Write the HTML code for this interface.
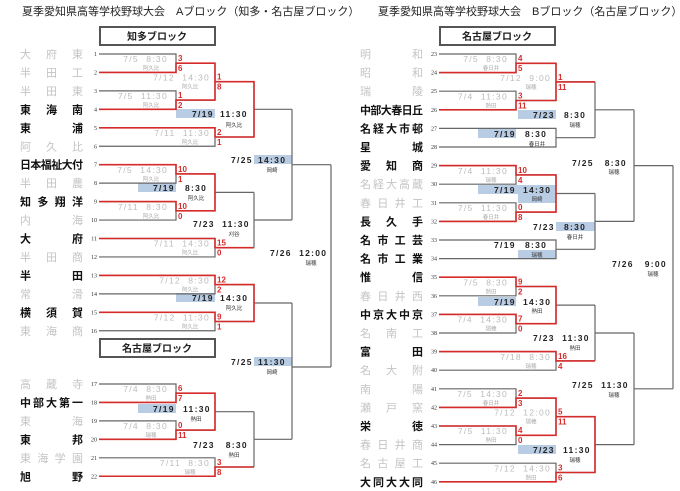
<!DOCTYPE html>
<html><head><meta charset="utf-8"><style>
html,body{margin:0;padding:0;background:#fff;}
svg{display:block}
.g{stroke:#666;stroke-width:1.2;fill:none}
.r{stroke:#d52b2b;stroke-width:1.6;fill:none}
.d{font-family:"Liberation Sans",sans-serif;font-size:8.5px;fill:#bbb;letter-spacing:1.3px;white-space:pre;text-anchor:end}
.k{font-family:"Liberation Sans",sans-serif;font-size:8.5px;fill:#222;font-weight:bold;letter-spacing:1.3px;white-space:pre}
.v{font-family:"Noto Sans CJK JP",sans-serif;font-size:5.5px;fill:#aaa;text-anchor:middle}
.vk{font-family:"Noto Sans CJK JP",sans-serif;font-size:5.5px;fill:#333;text-anchor:middle}
.s{font-family:"Liberation Sans",sans-serif;font-size:8px;font-weight:bold;fill:#d52b2b}
.n{font-family:"Liberation Serif",serif;font-size:6px;fill:#333;text-anchor:end}
.t1{font-family:"Liberation Sans","Noto Sans CJK JP",sans-serif;font-size:11px;font-weight:bold;fill:#111}
.t0{font-family:"Liberation Sans","Noto Sans CJK JP",sans-serif;font-size:11px;fill:#c4c4c4}
.h{font-family:"Liberation Sans","Noto Sans CJK JP",sans-serif;font-size:11px;fill:#222}
.bx{font-family:"Liberation Sans","Noto Sans CJK JP",sans-serif;font-size:10px;font-weight:bold;fill:#222;text-anchor:middle}
.b{fill:#b8cce4}
</style></head><body>
<svg width="680" height="491" viewBox="0 0 680 491" xmlns="http://www.w3.org/2000/svg">
<text class="h" x="22" y="15">夏季愛知県高等学校野球大会　Aブロック（知多・名古屋ブロック）</text>
<text class="h" x="378" y="15">夏季愛知県高等学校野球大会　Bブロック（名古屋ブロック）</text>
<rect x="100" y="27" width="115" height="18" fill="#fff" stroke="#555" stroke-width="2"/>
<text class="bx" x="157" y="40">知多ブロック</text>
<rect x="100" y="339" width="115" height="18" fill="#fff" stroke="#555" stroke-width="2"/>
<text class="bx" x="157" y="352">名古屋ブロック</text>
<rect x="440" y="27" width="115" height="18" fill="#fff" stroke="#555" stroke-width="2"/>
<text class="bx" x="497" y="40">名古屋ブロック</text>

<rect class="b" x="176" y="109" width="39" height="9"/>
<rect class="b" x="138" y="183" width="38" height="9"/>
<rect class="b" x="254" y="155" width="38" height="9"/>
<rect class="b" x="176" y="293" width="39" height="9"/>
<rect class="b" x="254" y="357" width="38" height="9"/>
<rect class="b" x="138" y="404" width="38" height="9"/>
<rect class="b" x="478" y="129" width="38" height="9"/>
<rect class="b" x="518" y="110" width="38" height="9"/>
<rect class="b" x="478" y="185" width="78" height="9"/>
<rect class="b" x="518" y="194" width="38" height="9"/>
<rect class="b" x="518" y="250" width="38" height="9"/>
<rect class="b" x="556" y="222" width="39" height="9"/>
<rect class="b" x="478" y="297" width="38" height="9"/>
<rect class="b" x="518" y="445" width="38" height="9"/>

<path class="g" d="M99 54H176V72.45H99M176 63.2H215M99 90.9H176V109.35H99M176 100.1H215M215 63.2V100.1M215 81.7H254M99 127.8H215V146.25H99M215 137H254M254 81.7V137M254 109.3H292M99 164.7H176V183.15H99M176 173.9H215M99 201.6H176V220.05H99M176 210.8H215M215 173.9V210.8M215 192.4H254M99 238.5H215V256.95H99M215 247.7H254M254 192.4V247.7M254 220H292M292 109.3V220M292 164.7H331M99 275.4H215V293.85H99M215 284.6H254M99 312.3H215V330.75H99M215 321.5H254M254 284.6V321.5M254 303H292M99 384H176V402.45H99M176 393.2H215M99 420.9H176V439.35H99M176 430.1H215M215 393.2V430.1M215 411.7H254M99 457.8H215V476.25H99M215 467H254M254 411.7V467M254 439.3H292M292 303V439.3M292 367H331M331 164.7V367"/>
<path class="g" d="M439 54H516V72.6H439M516 63.3H556M439 91.2H516V109.8H439M516 100.5H556M556 63.3V100.5M556 81.9H595M439 128.4H556V147H439M556 137.7H595M595 81.9V137.7M595 109.8H634M439 165.6H516V184.2H439M516 174.9H556M439 202.8H516V221.4H439M516 212.1H556M556 174.9V212.1M556 193.5H595M439 240H556V258.6H439M556 249.3H595M595 193.5V249.3M595 221.4H634M634 109.8V221.4M634 165.6H673M439 277.2H516V295.8H439M516 286.5H556M439 314.4H516V333H439M516 323.7H556M556 286.5V323.7M556 305.1H595M439 351.6H556V370.2H439M556 360.9H595M595 305.1V360.9M595 333H634M439 388.8H516V407.4H439M516 398.1H556M439 426H516V444.6H439M516 435.3H556M556 398.1V435.3M556 416.7H595M439 463.2H556V481.8H439M556 472.5H595M595 416.7V472.5M595 444.6H634M634 333V444.6M634 388.8H673M673 165.6V388.8"/>

<path class="r" d="M99 72.45H176V63.2H215V81.7M99 109.35H176V100.1H215V81.7H254V109.3M99 127.8H215V137H254V109.3M99 164.7H176V173.9H215V192.4M99 201.6H176V210.8H215V192.4M99 238.5H215V247.7H254M99 275.4H215V284.6H254V303M99 312.3H215V321.5H254V303M99 402.45H176V393.2H215V411.7M99 439.35H176V430.1H215V411.7M99 476.25H215V467H254"/>
<path class="r" d="M439 72.6H516V63.3H556V81.9M439 109.8H516V100.5H556V81.9H595M439 165.6H516V174.9H556V193.5M439 221.4H516V212.1H556V193.5M439 277.2H516V286.5H556V305.1M439 314.4H516V323.7H556V305.1M439 351.6H556V360.9H595M439 407.4H516V398.1H556V416.7M439 426H516V435.3H556V416.7H595V444.6M439 481.8H556V472.5H595V444.6"/>

<text class="t0" x="20" y="58" textLength="63" lengthAdjust="spacing">大府東</text>
<text class="t0" x="20" y="76.5" textLength="63" lengthAdjust="spacing">半田工</text>
<text class="t0" x="20" y="95" textLength="63" lengthAdjust="spacing">半田東</text>
<text class="t1" x="20" y="113.4" textLength="63" lengthAdjust="spacing">東海南</text>
<text class="t1" x="20" y="131.8" textLength="63" lengthAdjust="spacing">東浦</text>
<text class="t0" x="20" y="150.3" textLength="63" lengthAdjust="spacing">阿久比</text>
<text class="t1" x="20" y="168.7" textLength="63" lengthAdjust="spacing">日本福祉大付</text>
<text class="t0" x="20" y="187.2" textLength="63" lengthAdjust="spacing">半田農</text>
<text class="t1" x="20" y="205.6" textLength="63" lengthAdjust="spacing">知多翔洋</text>
<text class="t0" x="20" y="224" textLength="63" lengthAdjust="spacing">内海</text>
<text class="t1" x="20" y="242.5" textLength="63" lengthAdjust="spacing">大府</text>
<text class="t0" x="20" y="261" textLength="63" lengthAdjust="spacing">半田商</text>
<text class="t1" x="20" y="279.4" textLength="63" lengthAdjust="spacing">半田</text>
<text class="t0" x="20" y="297.9" textLength="63" lengthAdjust="spacing">常滑</text>
<text class="t1" x="20" y="316.3" textLength="63" lengthAdjust="spacing">横須賀</text>
<text class="t0" x="20" y="334.8" textLength="63" lengthAdjust="spacing">東海商</text>
<text class="t0" x="20" y="388" textLength="63" lengthAdjust="spacing">高蔵寺</text>
<text class="t1" x="20" y="406.5" textLength="63" lengthAdjust="spacing">中部大第一</text>
<text class="t0" x="20" y="425" textLength="63" lengthAdjust="spacing">東海</text>
<text class="t1" x="20" y="443.4" textLength="63" lengthAdjust="spacing">東邦</text>
<text class="t0" x="20" y="461.8" textLength="63" lengthAdjust="spacing">東海学園</text>
<text class="t1" x="20" y="480.3" textLength="63" lengthAdjust="spacing">旭野</text>

<text class="n" x="97" y="56">1</text><text class="n" x="97" y="74.5">2</text><text class="n" x="97" y="93">3</text><text class="n" x="97" y="111.4">4</text><text class="n" x="97" y="129.8">5</text><text class="n" x="97" y="148.3">6</text><text class="n" x="97" y="166.7">7</text><text class="n" x="97" y="185.2">8</text><text class="n" x="97" y="203.6">9</text><text class="n" x="97" y="222">10</text><text class="n" x="97" y="240.5">11</text><text class="n" x="97" y="259">12</text><text class="n" x="97" y="277.4">13</text><text class="n" x="97" y="295.9">14</text><text class="n" x="97" y="314.3">15</text><text class="n" x="97" y="332.8">16</text><text class="n" x="97" y="386">17</text><text class="n" x="97" y="404.5">18</text><text class="n" x="97" y="423">19</text><text class="n" x="97" y="441.4">20</text><text class="n" x="97" y="459.8">21</text><text class="n" x="97" y="478.3">22</text>

<text class="t0" x="360" y="58" textLength="63" lengthAdjust="spacing">明和</text>
<text class="t0" x="360" y="76.6" textLength="63" lengthAdjust="spacing">昭和</text>
<text class="t0" x="360" y="95.2" textLength="63" lengthAdjust="spacing">瑞陵</text>
<text class="t1" x="360" y="113.8" textLength="63" lengthAdjust="spacing">中部大春日丘</text>
<text class="t1" x="360" y="132.4" textLength="63" lengthAdjust="spacing">名経大市邨</text>
<text class="t1" x="360" y="151" textLength="63" lengthAdjust="spacing">星城</text>
<text class="t1" x="360" y="169.6" textLength="63" lengthAdjust="spacing">愛知商</text>
<text class="t0" x="360" y="188.2" textLength="63" lengthAdjust="spacing">名経大高蔵</text>
<text class="t0" x="360" y="206.8" textLength="63" lengthAdjust="spacing">春日井工</text>
<text class="t1" x="360" y="225.4" textLength="63" lengthAdjust="spacing">長久手</text>
<text class="t1" x="360" y="244" textLength="63" lengthAdjust="spacing">名市工芸</text>
<text class="t1" x="360" y="262.6" textLength="63" lengthAdjust="spacing">名市工業</text>
<text class="t1" x="360" y="281.2" textLength="63" lengthAdjust="spacing">惟信</text>
<text class="t0" x="360" y="299.8" textLength="63" lengthAdjust="spacing">春日井西</text>
<text class="t1" x="360" y="318.4" textLength="63" lengthAdjust="spacing">中京大中京</text>
<text class="t0" x="360" y="337" textLength="63" lengthAdjust="spacing">名南工</text>
<text class="t1" x="360" y="355.6" textLength="63" lengthAdjust="spacing">富田</text>
<text class="t0" x="360" y="374.2" textLength="63" lengthAdjust="spacing">名大附</text>
<text class="t0" x="360" y="392.8" textLength="63" lengthAdjust="spacing">南陽</text>
<text class="t0" x="360" y="411.4" textLength="63" lengthAdjust="spacing">瀬戸窯</text>
<text class="t1" x="360" y="430" textLength="63" lengthAdjust="spacing">栄徳</text>
<text class="t0" x="360" y="448.6" textLength="63" lengthAdjust="spacing">春日井商</text>
<text class="t0" x="360" y="467.2" textLength="63" lengthAdjust="spacing">名古屋工</text>
<text class="t1" x="360" y="485.8" textLength="63" lengthAdjust="spacing">大同大大同</text>

<text class="n" x="437" y="56">23</text><text class="n" x="437" y="74.6">24</text><text class="n" x="437" y="93.2">25</text><text class="n" x="437" y="111.8">26</text><text class="n" x="437" y="130.4">27</text><text class="n" x="437" y="149">28</text><text class="n" x="437" y="167.6">29</text><text class="n" x="437" y="186.2">30</text><text class="n" x="437" y="204.8">31</text><text class="n" x="437" y="223.4">32</text><text class="n" x="437" y="242">33</text><text class="n" x="437" y="260.6">34</text><text class="n" x="437" y="279.2">35</text><text class="n" x="437" y="297.8">36</text><text class="n" x="437" y="316.4">37</text><text class="n" x="437" y="335">38</text><text class="n" x="437" y="353.6">39</text><text class="n" x="437" y="372.2">40</text><text class="n" x="437" y="390.8">41</text><text class="n" x="437" y="409.4">42</text><text class="n" x="437" y="428">43</text><text class="n" x="437" y="446.6">44</text><text class="n" x="437" y="465.2">45</text><text class="n" x="437" y="483.8">46</text>

<text class="d" x="168" y="62">7/5  8:30</text><text class="v" x="151" y="70">阿久比</text><text class="s" x="178" y="61">3</text><text class="s" x="178" y="71">6</text>
<text class="d" x="168" y="99">7/5  11:30</text><text class="v" x="151" y="107">阿久比</text><text class="s" x="178" y="98">1</text><text class="s" x="178" y="108">2</text>
<text class="d" x="210" y="80.5">7/12  14:30</text><text class="v" x="190" y="88.5">阿久比</text><text class="s" x="217" y="79.5">1</text><text class="s" x="217" y="89.5">8</text>
<text class="d" x="210" y="136">7/11  11:30</text><text class="v" x="190" y="144">阿久比</text><text class="s" x="217" y="135">2</text><text class="s" x="217" y="145">1</text>
<text class="d" x="168" y="173">7/5  14:30</text><text class="v" x="151" y="181">阿久比</text><text class="s" x="178" y="172">10</text><text class="s" x="178" y="182">1</text>
<text class="d" x="168" y="210">7/11  8:30</text><text class="v" x="151" y="218">阿久比</text><text class="s" x="178" y="209">10</text><text class="s" x="178" y="219">0</text>
<text class="d" x="210" y="246.5">7/11  14:30</text><text class="v" x="190" y="254.5">阿久比</text><text class="s" x="217" y="245.5">15</text><text class="s" x="217" y="255.5">0</text>
<text class="d" x="210" y="283.5">7/12  8:30</text><text class="v" x="190" y="291.5">阿久比</text><text class="s" x="217" y="282.5">12</text><text class="s" x="217" y="292.5">2</text>
<text class="d" x="210" y="320.5">7/12  11:30</text><text class="v" x="190" y="328.5">阿久比</text><text class="s" x="217" y="319.5">9</text><text class="s" x="217" y="329.5">1</text>
<text class="d" x="168" y="392">7/4  8:30</text><text class="v" x="151" y="400">熱田</text><text class="s" x="178" y="391">6</text><text class="s" x="178" y="401">7</text>
<text class="d" x="168" y="429">7/4  8:30</text><text class="v" x="151" y="437">瑞穂</text><text class="s" x="178" y="428">0</text><text class="s" x="178" y="438">11</text>
<text class="d" x="210" y="466">7/11  8:30</text><text class="v" x="190" y="474">瑞穂</text><text class="s" x="217" y="465">3</text><text class="s" x="217" y="475">8</text>

<text class="k" x="192" y="117">7/19</text><text class="k" x="220" y="117">11:30</text><text class="vk" x="234" y="127">阿久比</text>
<text class="k" x="153" y="191">7/19</text><text class="k" x="185" y="191">8:30</text><text class="vk" x="196" y="200">阿久比</text>
<text class="k" x="193" y="227">7/23  11:30</text><text class="vk" x="234" y="236">刈谷</text>
<text class="k" x="231" y="163">7/25</text><text class="k" x="258" y="163">14:30</text><text class="vk" x="272" y="172">岡崎</text>
<text class="k" x="270" y="256">7/26  12:00</text><text class="vk" x="311" y="265">瑞穂</text>
<text class="k" x="192" y="301">7/19</text><text class="k" x="220" y="301">14:30</text><text class="vk" x="234" y="310">阿久比</text>
<text class="k" x="231" y="365">7/25</text><text class="k" x="258" y="365">11:30</text><text class="vk" x="272" y="374">岡崎</text>
<text class="k" x="153" y="412">7/19</text><text class="k" x="183" y="412">11:30</text><text class="vk" x="196" y="421">熱田</text>
<text class="k" x="193" y="448">7/23   8:30</text><text class="vk" x="234" y="457">熱田</text>

<text class="d" x="508" y="62">7/5  8:30</text><text class="v" x="491" y="70">春日井</text><text class="s" x="518" y="61">4</text><text class="s" x="518" y="71">5</text>
<text class="d" x="508" y="99.5">7/4  11:30</text><text class="v" x="491" y="107.5">熱田</text><text class="s" x="518" y="98.5">3</text><text class="s" x="518" y="108.5">11</text>
<text class="d" x="551" y="81">7/12  9:00</text><text class="v" x="531" y="89">瑞穂</text><text class="s" x="558" y="80">1</text><text class="s" x="558" y="90">11</text>
<text class="d" x="508" y="174">7/4  11:30</text><text class="v" x="491" y="182">瑞穂</text><text class="s" x="518" y="173">10</text><text class="s" x="518" y="183">4</text>
<text class="d" x="508" y="211">7/5  11:30</text><text class="v" x="491" y="219">春日井</text><text class="s" x="518" y="210">0</text><text class="s" x="518" y="220">8</text>
<text class="d" x="508" y="285.5">7/5  8:30</text><text class="v" x="491" y="293.5">熱田</text><text class="s" x="518" y="284.5">9</text><text class="s" x="518" y="294.5">2</text>
<text class="d" x="508" y="322.5">7/4  14:30</text><text class="v" x="491" y="330.5">瑞穂</text><text class="s" x="518" y="321.5">7</text><text class="s" x="518" y="331.5">0</text>
<text class="d" x="551" y="360">7/18  8:30</text><text class="v" x="531" y="368">瑞穂</text><text class="s" x="558" y="359">16</text><text class="s" x="558" y="369">4</text>
<text class="d" x="508" y="397">7/5  14:30</text><text class="v" x="491" y="405">春日井</text><text class="s" x="518" y="396">2</text><text class="s" x="518" y="406">3</text>
<text class="d" x="551" y="415.5">7/12  12:00</text><text class="v" x="531" y="423.5">瑞穂</text><text class="s" x="558" y="414.5">5</text><text class="s" x="558" y="424.5">11</text>
<text class="d" x="508" y="434">7/5  11:30</text><text class="v" x="491" y="442">熱田</text><text class="s" x="518" y="433">4</text><text class="s" x="518" y="443">0</text>
<text class="d" x="551" y="471.5">7/12  14:30</text><text class="v" x="531" y="479.5">熱田</text><text class="s" x="558" y="470.5">3</text><text class="s" x="558" y="480.5">6</text>

<text class="k" x="494" y="137">7/19</text><text class="k" x="525" y="137">8:30</text><text class="vk" x="537" y="146">春日井</text>
<text class="k" x="533" y="118">7/23</text><text class="k" x="564" y="118">8:30</text><text class="vk" x="575" y="127">瑞穂</text>
<text class="k" x="494" y="193">7/19</text><text class="k" x="523" y="193">14:30</text><text class="vk" x="537" y="201">岡崎</text>
<text class="k" x="494" y="248">7/19</text><text class="k" x="525" y="248">8:30</text><text class="vk" x="537" y="257">瑞穂</text>
<text class="k" x="533" y="230">7/23</text><text class="k" x="564" y="230">8:30</text><text class="vk" x="575" y="239">春日井</text>
<text class="k" x="572" y="166">7/25   8:30</text><text class="vk" x="614" y="174">瑞穂</text>
<text class="k" x="494" y="305">7/19</text><text class="k" x="523" y="305">14:30</text><text class="vk" x="537" y="313">熱田</text>
<text class="k" x="533" y="341">7/23  11:30</text><text class="vk" x="575" y="350">熱田</text>
<text class="k" x="533" y="453">7/23</text><text class="k" x="563" y="453">11:30</text><text class="vk" x="575" y="462">瑞穂</text>
<text class="k" x="572" y="388">7/25  11:30</text><text class="vk" x="614" y="397">瑞穂</text>
<text class="k" x="612" y="267">7/26   9:00</text><text class="vk" x="653" y="276">瑞穂</text>
</svg>
</body></html>
